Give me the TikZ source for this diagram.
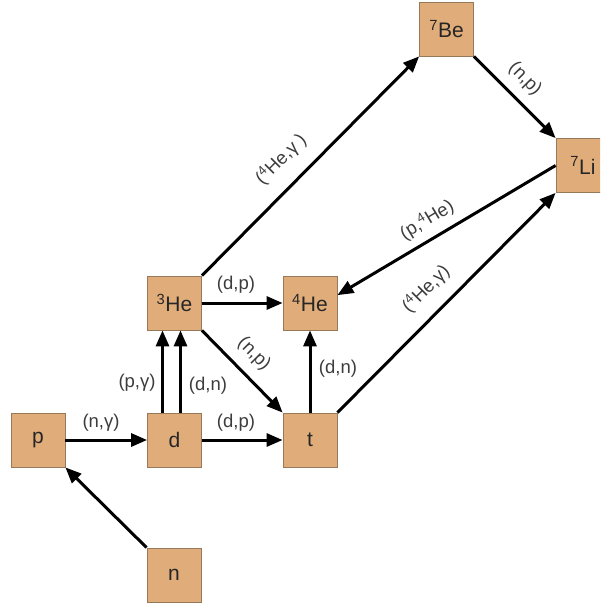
\documentclass[tikz,border=0pt]{standalone}
\usepackage{fontspec}
\setmainfont{Liberation Sans}
\usetikzlibrary{arrows.meta,calc}
\definecolor{boxfill}{RGB}{224,172,122}
\definecolor{boxline}{RGB}{150,120,90}
\definecolor{labtext}{RGB}{60,60,60}
\tikzset{
  nuc/.style={draw=boxline, line width=0.8pt, fill=boxfill, minimum size=54pt, inner sep=0pt,
    font=\fontsize{21}{24}\selectfont, text=black!85},
  flow/.style={line width=3pt, -{Triangle[length=16pt,width=13pt]}},
  lab/.style={font=\fontsize{18.5}{21}\selectfont, text=labtext, inner sep=0pt}
}
\begin{document}
\begin{tikzpicture}[x=1pt,y=-1pt]
\useasboundingbox (0,0) rectangle (600,607);
\clip (0,0) rectangle (600,607);
\node[nuc] (Be7) at (446.5,29) {\textsuperscript{7}Be};
\node[nuc] (Li7) at (583,165.5) {\textsuperscript{7}Li};
\node[nuc] (He3) at (174.5,303) {\textsuperscript{3}He};
\node[nuc] (He4) at (310,303) {\textsuperscript{4}He};
\node[nuc] (p) at (38,440) {p};
\node[nuc] (d) at (174.5,440) {d};
\node[nuc] (t) at (310,440) {t};
\node[nuc] (n) at (174,575) {n};

\draw[flow] (p) -- (d);
\draw[flow] (d) -- (t);
\draw[flow] (He3) -- (He4);
\draw[flow] ([xshift=-12pt]d.north) -- ([xshift=-12pt]He3.south);
\draw[flow] ([xshift=6pt]d.north) -- ([xshift=6pt]He3.south);
\draw[flow] (t) -- (He4);
\draw[flow] (n.north west) -- (p.south east);
\draw[flow] (He3.south east) -- (t.north west);
\draw[flow] (He3.north east) -- (Be7.south west);
\draw[flow] (Be7.south east) -- (Li7.north west);
\draw[flow] (t.north east) -- (Li7.south west);
\draw[flow] (Li7.west) -- (He4.16);

\node[lab] (lng) at (101,423) {(n,γ)};
\node[lab] (ldp1) at (236,423) {(d,p)};
\node[lab] (ldp2) at (236,285) {(d,p)};
\node[lab] (lpg) at (137,383) {(p,γ)};
\node[lab] (ldn1) at (208,386) {(d,n)};
\node[lab] (ldn2) at (338,369) {(d,n)};
\node[lab,rotate=-45] (lnp1) at (254,354) {(n,p)};
\node[lab,rotate=45] (lhg1) at (281,159) {(\textsuperscript{4}He,γ )};
\node[lab,rotate=-45] (lnp2) at (525,79) {(n,p)};
\node[lab,rotate=31] (lph) at (427,220) {(p,\textsuperscript{4}He)};
\node[lab,rotate=45] (lhg2) at (426,289) {(\textsuperscript{4}He,γ)};
\end{tikzpicture}
\end{document}
